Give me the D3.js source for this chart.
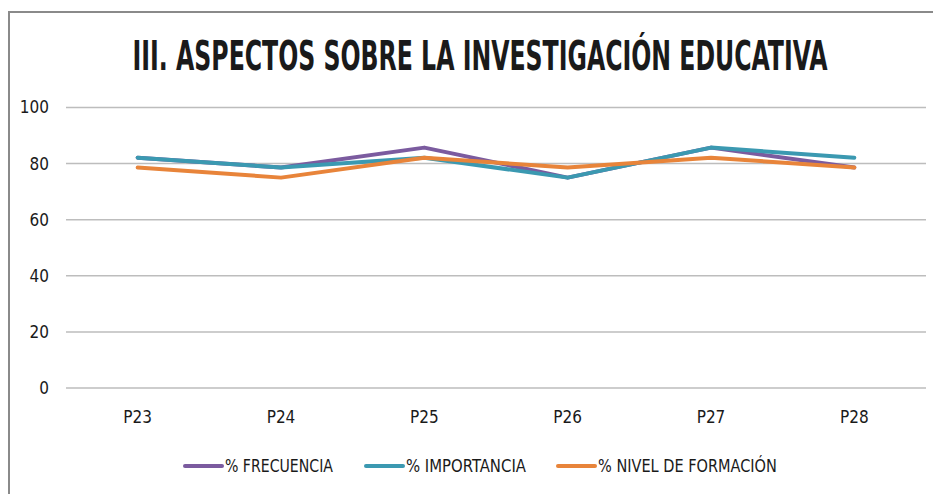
<!DOCTYPE html>
<html>
<head>
<meta charset="utf-8">
<script src="https://cdn.jsdelivr.net/npm/d3@7"></script>
<style>
  body { margin: 0; background: #fff; }
  svg { display: block; }
  text { font-family: "Liberation Sans Narrow", "DejaVu Sans Condensed", sans-serif; fill: #1a1a1a; }
</style>
</head>
<body>
<svg width="933" height="494"></svg>
<script>
  'use strict'

  const categories = ['P23', 'P24', 'P25', 'P26', 'P27', 'P28']
  const frecuencia = [82.1, 78.6, 85.7, 75.0, 85.7, 78.6]
  const importancia = [82.1, 78.6, 82.1, 75.0, 85.7, 82.1]
  const nivelFormacion = [78.6, 75.0, 82.1, 78.6, 82.1, 78.6]
  const seriesNames = ['% FRECUENCIA', '% IMPORTANCIA', '% NIVEL DE FORMACIÓN']
  const yTicks = [0, 20, 40, 60, 80, 100]
  const titleText = 'III. ASPECTOS SOBRE LA INVESTIGACIÓN EDUCATIVA'

  const colors = ['#7b5b9f', '#3b99b1', '#e8843a']
  const series = [frecuencia, importancia, nivelFormacion].map((values, i) => ({
    name: seriesNames[i],
    color: colors[i],
    values
  }))

  const svg = d3.select('svg')

  // squeeze a text horizontally so it is `width` wide, keeping its height
  function squeeze(sel, width) {
    sel.each(function () {
      const w = this.getComputedTextLength()
      const k = Math.min(1, width / w)
      const t = d3.select(this)
      const x0 = +t.attr('x') || 0
      const y0 = +t.attr('y') || 0
      t.attr('x', 0).attr('y', 0).
        attr('transform', `translate(${x0},${y0}) scale(${k},1)`)
    })
  }

  // chart frame
  svg.
    append('path').
    attr('d', 'M9,500V12H940').
    attr('fill', 'none').
    attr('stroke', '#8a8a8a').
    attr('stroke-width', 2)

  svg.
    append('text').
    attr('x', 480).
    attr('y', 70).
    attr('text-anchor', 'middle').
    attr('font-size', 40).
    attr('font-weight', 'bold').
    attr('fill', '#000').
    text(titleText).
    call(squeeze, 695)

  const x = d3.scaleBand().
    domain(categories).
    range([66, 926])

  const y = d3.scaleLinear().
    domain([0, 100]).
    range([388, 107.5])

  // gridlines
  svg.
    append('g').
    selectAll('line').
    data(yTicks).
    enter().
    append('line').
    attr('x1', 66).
    attr('x2', 926).
    attr('y1', d => y(d)).
    attr('y2', d => y(d)).
    attr('stroke', '#bdbdbd').
    attr('stroke-width', 1.5)

  const yAxis = svg.
    append('g').
    attr('transform', 'translate(66,0)').
    call(d3.axisLeft(y).tickValues(yTicks).tickSize(0).tickPadding(17))
  yAxis.select('.domain').remove()
  yAxis.selectAll('text').
    attr('font-size', 17).
    attr('font-family', null)

  const xAxis = svg.
    append('g').
    attr('transform', 'translate(0,388)').
    call(d3.axisBottom(x).tickSize(0).tickPadding(23))
  xAxis.select('.domain').remove()
  xAxis.selectAll('text').
    attr('font-size', 17).
    attr('font-family', null)

  const line = d3.line().
    x((d, i) => x(categories[i]) + x.bandwidth() / 2).
    y(d => y(d))

  svg.
    append('g').
    selectAll('path').
    data(series).
    enter().
    append('path').
    attr('d', d => line(d.values)).
    attr('fill', 'none').
    attr('stroke', d => d.color).
    attr('stroke-width', 4).
    attr('stroke-linejoin', 'round').
    attr('stroke-linecap', 'round')

  // legend
  const legendX = [185, 366, 558]
  const legendW = [108, 120, 179]
  const legend = svg.
    append('g').
    selectAll('g').
    data(series).
    enter().
    append('g').
    attr('transform', (d, i) => `translate(${legendX[i]},466)`)

  legend.
    append('line').
    attr('x1', 0).
    attr('x2', 37).
    attr('stroke', d => d.color).
    attr('stroke-width', 4).
    attr('stroke-linecap', 'round')

  legend.
    append('text').
    attr('x', 40).
    attr('y', 6).
    attr('font-size', 17).
    text(d => d.name).
    each(function (d, i) { d3.select(this).call(squeeze, legendW[i]) })
</script>
</body>
</html>
